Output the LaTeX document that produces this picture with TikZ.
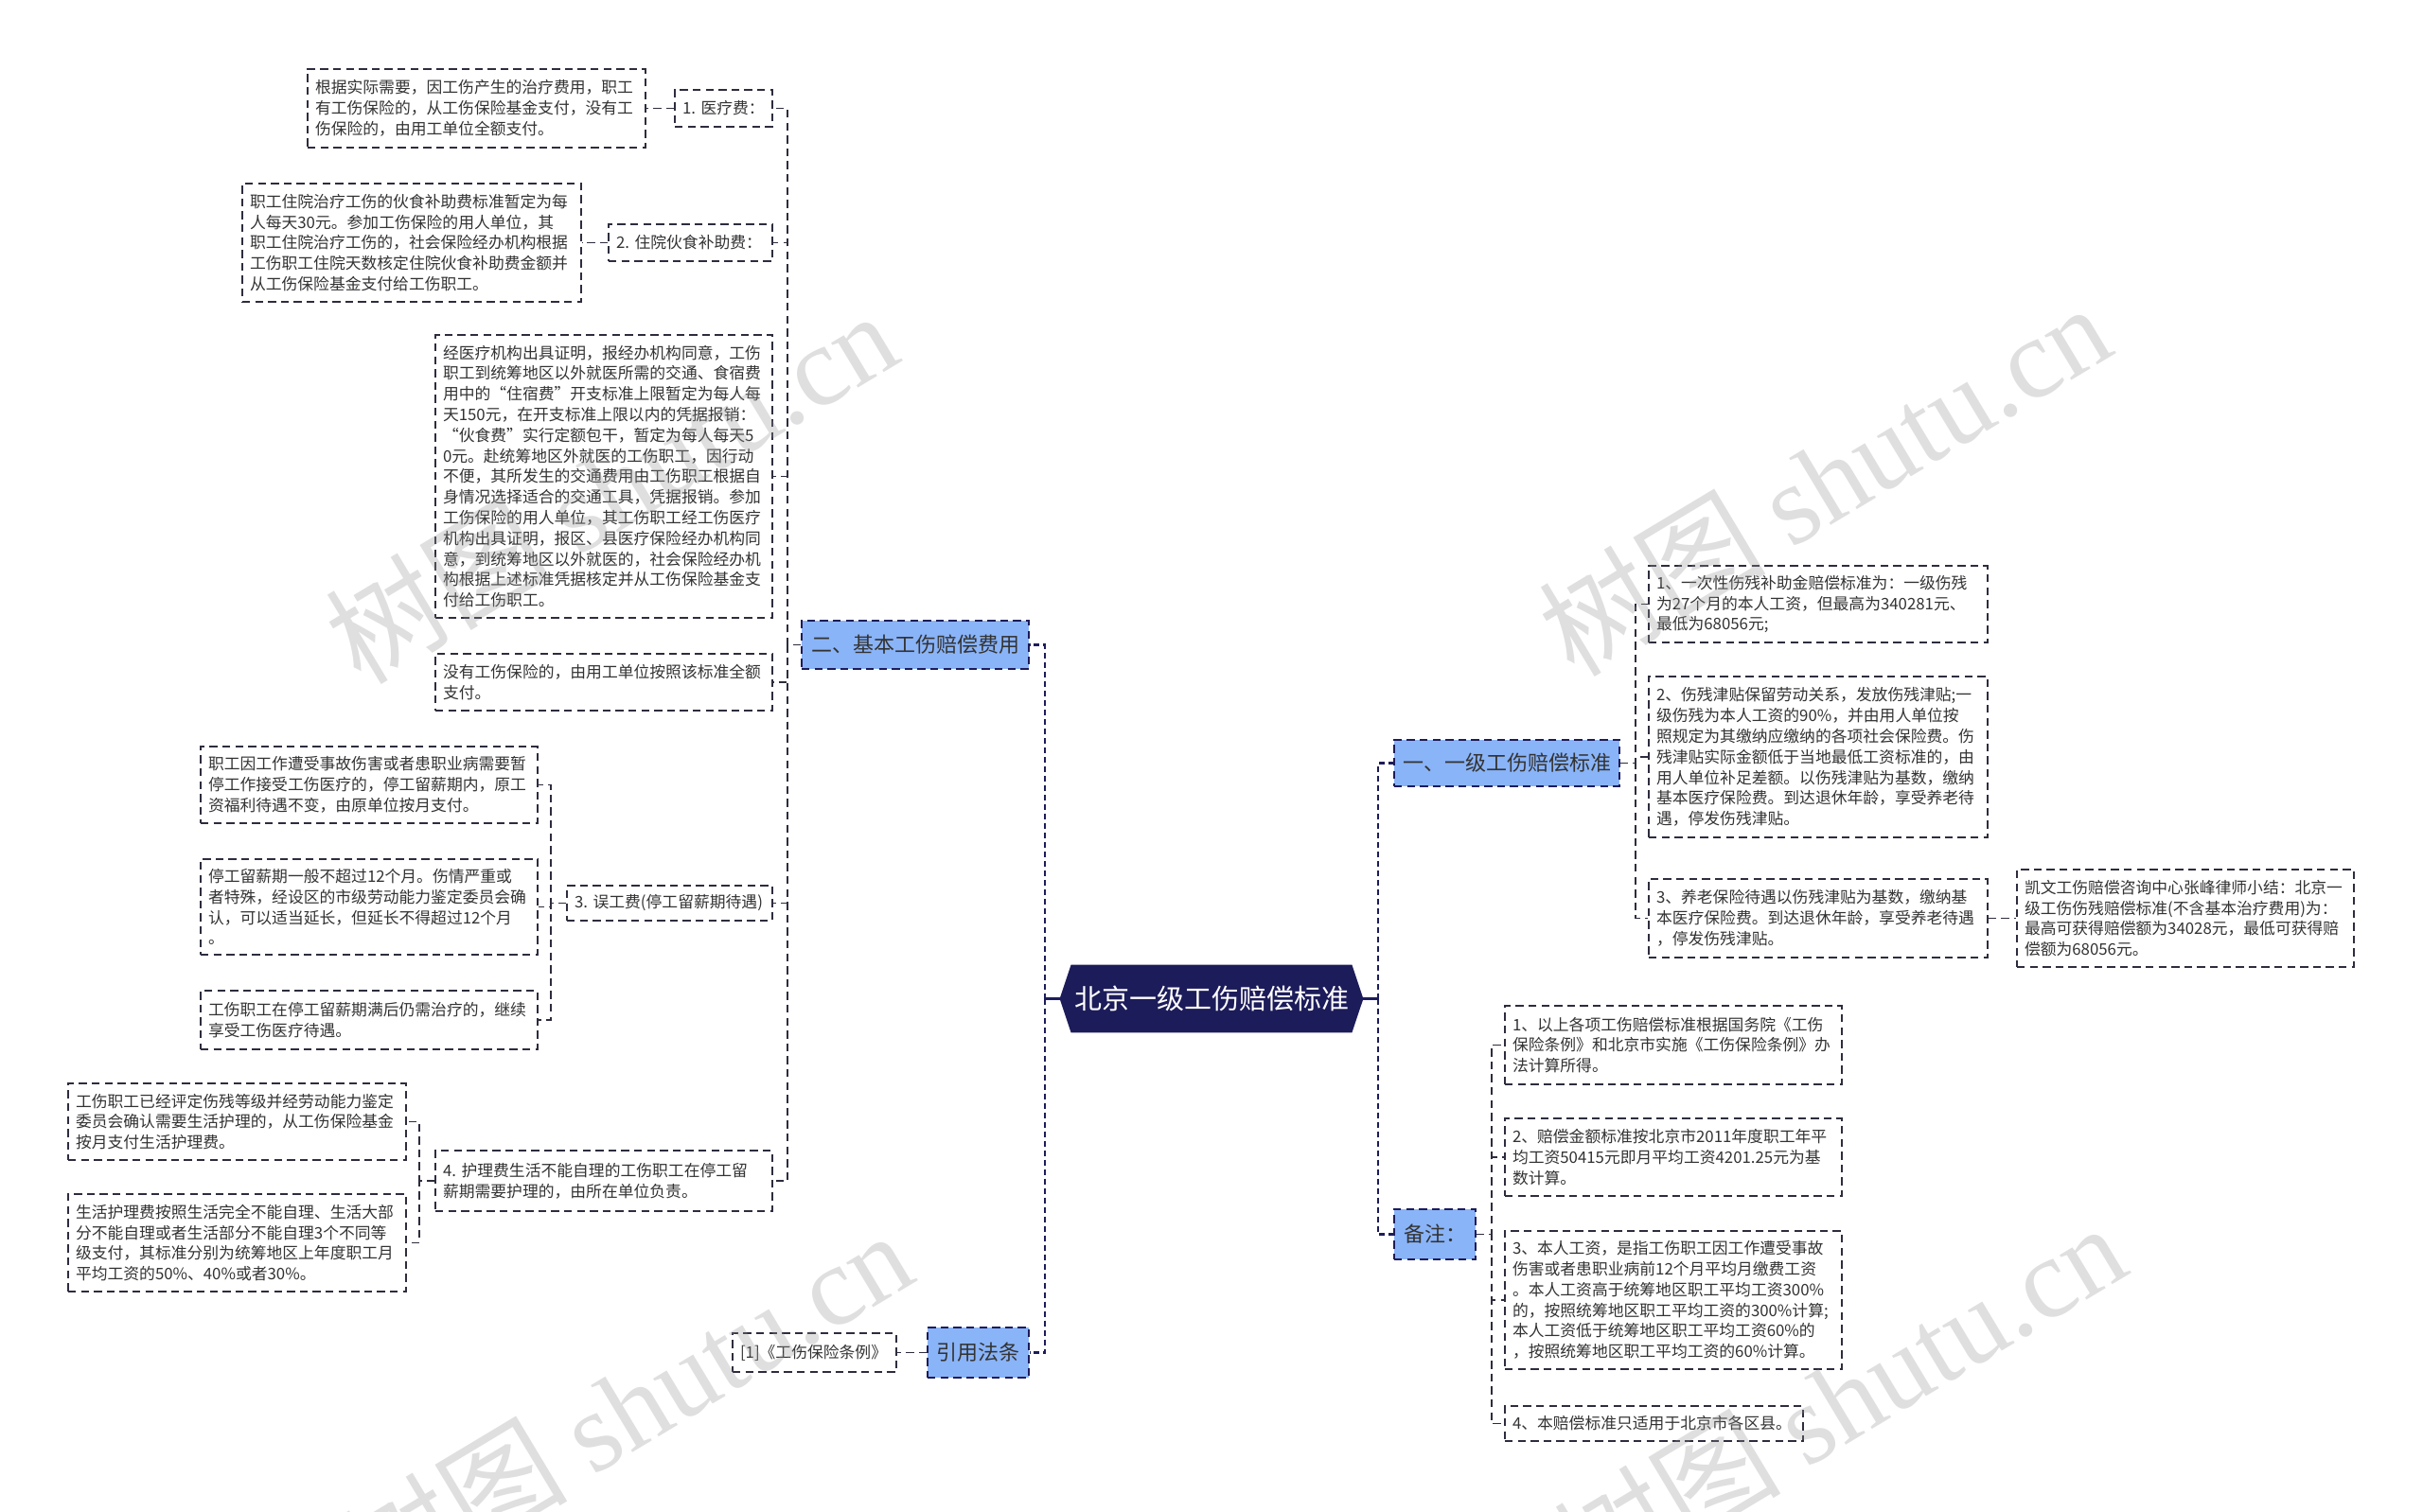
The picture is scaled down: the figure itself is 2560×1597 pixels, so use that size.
\documentclass[tikz,border=0pt]{standalone}
\usepackage{fontspec}
\setmainfont{Noto Sans CJK SC}
\newfontfamily\wmserif{Liberation Serif}
\usetikzlibrary{backgrounds}
\definecolor{leafline}{RGB}{45,45,62}
\definecolor{navy}{RGB}{29,28,90}
\definecolor{lvfill}{RGB}{138,180,248}
\definecolor{txt}{RGB}{51,51,51}
\definecolor{wmgray}{RGB}{150,150,150}
\newcommand{\placebox}[7]{%
  \pgfmathsetmacro{\pbw}{(#5-#3)*0.5}%
  \pgfmathsetmacro{\pbh}{(#6-#4)*0.5}%
  \pgfmathsetmacro{\pbtw}{\pbw-8}%
  \pgfmathsetmacro{\pbcx}{(#3+#5)/2}%
  \pgfmathsetmacro{\pbcy}{(#4+#6)/2}%
  \node[#1, text width=\pbtw pt, minimum width=\pbw pt, minimum height=\pbh pt] (#2) at (\pbcx,\pbcy) {#7};%
}
\begin{document}
\begin{tikzpicture}[x=0.5pt,y=-0.5pt,
  leaf/.style={draw=leafline, line width=0.8pt, dash pattern=on 4.2pt off 2.6pt, fill=white, text=txt,
    font=\fontsize{8.4}{10.9}\selectfont, align=left, inner xsep=4pt, inner ysep=1pt},
  lvone/.style={draw=navy, line width=0.8pt, dash pattern=on 4.2pt off 2.6pt, fill=lvfill, text=txt,
    font=\fontsize{11}{13}\selectfont, align=center, inner xsep=4pt, inner ysep=1pt},
  rootnode/.style={text=white, font=\fontsize{14.5}{17}\selectfont, align=center, inner xsep=4pt, inner ysep=1pt},
  link/.style={draw=leafline, line width=0.8pt, dash pattern=on 4.2pt off 2.6pt},
  trunk/.style={draw=navy, line width=1.3pt, dash pattern=on 3pt off 2pt},
  stub/.style={draw=navy, line width=1.3pt},
  wm/.style={text=wmgray, opacity=0.3, font=\fontsize{60}{60}\selectfont, rotate=31, inner sep=0pt}
]
\useasboundingbox (0,0) rectangle (2560,1597);

% ---------- root ----------
\placebox{rootnode}{root}{1120}{1020}{1440}{1091}{北京一级工伤赔偿标准}
\begin{scope}[on background layer]
\fill[navy] (root.west) -- ([xshift=6pt]root.north west) -- ([xshift=-6pt]root.north east) -- (root.east)
  -- ([xshift=-6pt]root.south east) -- ([xshift=6pt]root.south west) -- cycle;
\end{scope}

% ---------- level one ----------
\placebox{lvone}{L2}{847}{656}{1087}{707}{二、基本工伤赔偿费用}
\placebox{lvone}{R3}{980}{1403}{1087}{1456}{引用法条}
\placebox{lvone}{R1}{1473}{782}{1711}{831}{一、一级工伤赔偿标准}
\placebox{lvone}{R2}{1473}{1278}{1559}{1331}{备注：}

% ---------- left branch ----------
\placebox{leaf}{B1}{713}{95}{816}{134}{\mbox{1.~医疗费：}}
\placebox{leaf}{A1}{325}{73}{682}{156}{根据实际需要，因工伤产生的治疗费用，职工\\有工伤保险的，从工伤保险基金支付，没有工\\伤保险的，由用工单位全额支付。}
\placebox{leaf}{B2}{643}{237}{816}{276}{\mbox{2.~住院伙食补助费：}}
\placebox{leaf}{A2}{256}{194}{614}{319}{职工住院治疗工伤的伙食补助费标准暂定为每\\人每天30元。参加工伤保险的用人单位，其\\职工住院治疗工伤的，社会保险经办机构根据\\工伤职工住院天数核定住院伙食补助费金额并\\从工伤保险基金支付给工伤职工。}
\placebox{leaf}{A3}{460}{354}{816}{653}{经医疗机构出具证明，报经办机构同意，工伤\\职工到统筹地区以外就医所需的交通、食宿费\\用中的“住宿费”开支标准上限暂定为每人每\\天150元，在开支标准上限以内的凭据报销：\\“伙食费”实行定额包干，暂定为每人每天5\\0元。赴统筹地区外就医的工伤职工，因行动\\不便，其所发生的交通费用由工伤职工根据自\\身情况选择适合的交通工具，凭据报销。参加\\工伤保险的用人单位，其工伤职工经工伤医疗\\机构出具证明，报区、县医疗保险经办机构同\\意，到统筹地区以外就医的，社会保险经办机\\构根据上述标准凭据核定并从工伤保险基金支\\付给工伤职工。}
\placebox{leaf}{A4}{460}{691}{816}{751}{没有工伤保险的，由用工单位按照该标准全额\\支付。}
\placebox{leaf}{B3}{599}{936}{816}{973}{\mbox{3.~误工费(停工留薪期待遇)}}
\placebox{leaf}{C1}{212}{789}{568}{870}{职工因工作遭受事故伤害或者患职业病需要暂\\停工作接受工伤医疗的，停工留薪期内，原工\\资福利待遇不变，由原单位按月支付。}
\placebox{leaf}{C2}{212}{908}{568}{1009}{停工留薪期一般不超过12个月。伤情严重或\\者特殊，经设区的市级劳动能力鉴定委员会确\\认，可以适当延长，但延长不得超过12个月\\。}
\placebox{leaf}{C3}{212}{1047}{568}{1109}{工伤职工在停工留薪期满后仍需治疗的，继续\\享受工伤医疗待遇。}
\placebox{leaf}{B4}{460}{1216}{816}{1280}{\mbox{4.~护理费生活不能自理的工伤职工在停工留}\\薪期需要护理的，由所在单位负责。}
\placebox{leaf}{D1}{72}{1145}{429}{1226}{工伤职工已经评定伤残等级并经劳动能力鉴定\\委员会确认需要生活护理的，从工伤保险基金\\按月支付生活护理费。}
\placebox{leaf}{D2}{72}{1262}{429}{1365}{生活护理费按照生活完全不能自理、生活大部\\分不能自理或者生活部分不能自理3个不同等\\级支付，其标准分别为统筹地区上年度职工月\\平均工资的50\%、40\%或者30\%。}
\placebox{leaf}{E1}{774}{1409}{947}{1450}{\mbox{[1]《工伤保险条例》}}

% ---------- right branch ----------
\placebox{leaf}{F1}{1742}{598}{2100}{679}{1、一次性伤残补助金赔偿标准为：一级伤残\\为27个月的本人工资，但最高为340281元、\\最低为68056元;}
\placebox{leaf}{F2}{1742}{715}{2100}{885}{2、伤残津贴保留劳动关系，发放伤残津贴;一\\级伤残为本人工资的90\%，并由用人单位按\\照规定为其缴纳应缴纳的各项社会保险费。伤\\残津贴实际金额低于当地最低工资标准的，由\\用人单位补足差额。以伤残津贴为基数，缴纳\\基本医疗保险费。到达退休年龄，享受养老待\\遇，停发伤残津贴。}
\placebox{leaf}{F3}{1742}{929}{2100}{1012}{3、养老保险待遇以伤残津贴为基数，缴纳基\\本医疗保险费。到达退休年龄，享受养老待遇\\，停发伤残津贴。}
\placebox{leaf}{G1}{2131}{919}{2487}{1022}{凯文工伤赔偿咨询中心张峰律师小结：北京一\\级工伤伤残赔偿标准(不含基本治疗费用)为：\\最高可获得赔偿额为34028元，最低可获得赔\\偿额为68056元。}
\placebox{leaf}{H1}{1590}{1063}{1946}{1146}{1、以上各项工伤赔偿标准根据国务院《工伤\\保险条例》和北京市实施《工伤保险条例》办\\法计算所得。}
\placebox{leaf}{H2}{1590}{1182}{1946}{1264}{2、赔偿金额标准按北京市2011年度职工年平\\均工资50415元即月平均工资4201.25元为基\\数计算。}
\placebox{leaf}{H3}{1590}{1301}{1946}{1447}{3、本人工资，是指工伤职工因工作遭受事故\\伤害或者患职业病前12个月平均月缴费工资\\。本人工资高于统筹地区职工平均工资300\%\\的，按照统筹地区职工平均工资的300\%计算;\\本人工资低于统筹地区职工平均工资60\%的\\，按照统筹地区职工平均工资的60\%计算。}
\placebox{leaf}{H4}{1590}{1486}{1905}{1523}{\mbox{4、本赔偿标准只适用于北京市各区县。}}

% ---------- connectors ----------
\coordinate (rl) at (1104,1055.5);
\coordinate (rr) at (1456,1055.5);
\draw[stub] (root.west) -- (rl);
\draw[stub] (root.east) -- (rr);
\draw[stub] ([yshift=3pt]rl) -- ([yshift=-3pt]rl);
\draw[stub] ([yshift=3pt]rr) -- ([yshift=-3pt]rr);
\draw[trunk] (rl) |- (L2.east);
\draw[trunk] (rl) |- (R3.east);
\draw[trunk] (rr) |- (R1.west);
\draw[trunk] (rr) |- (R2.west);

\foreach \cn in {B1,B2,A3,A4,B3,B4} \draw[link] (L2.west) -- ++(-14,0) |- (\cn.east);
\draw[link] (B1.west) -- (A1.east);
\draw[link] (B2.west) -- (A2.east);
\foreach \cn in {C1,C2,C3} \draw[link] (B3.west) -- ++(-16,0) |- (\cn.east);
\foreach \cn in {D1,D2} \draw[link] (B4.west) -- ++(-16,0) |- (\cn.east);
\draw[link] (R3.west) -- (E1.east);

\foreach \cn in {F1,F2,F3} \draw[link] (R1.east) -- ++(16,0) |- (\cn.west);
\draw[link] (F3.east) -- (G1.west);
\foreach \cn in {H1,H2,H3,H4} \draw[link] (R2.east) -- ++(16,0) |- (\cn.west);

% ---------- watermarks ----------
\node[wm] (wm1) at (645,514) {树图 {\wmserif shutu.cn}};
\node[wm] (wm2) at (1927,506) {树图 {\wmserif shutu.cn}};
\node[wm] (wm3) at (661,1486) {树图 {\wmserif shutu.cn}};
\node[wm] (wm4) at (1943,1478) {树图 {\wmserif shutu.cn}};
\end{tikzpicture}
\end{document}
